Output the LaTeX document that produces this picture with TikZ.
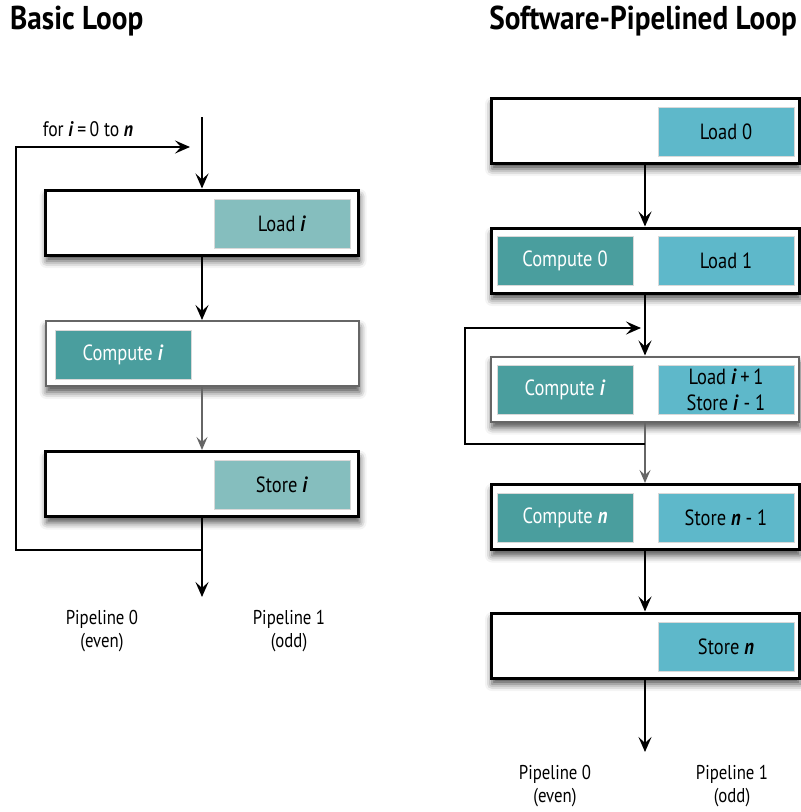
\documentclass[tikz,border=0pt]{standalone}
\usepackage{fontspec}
\setmainfont{PT Sans}
\newfontfamily\condfont[FakeStretch=0.84]{PT Sans}
\newfontfamily\titlefont[FakeStretch=0.885]{PT Sans}
\newfontfamily\pipefont[FakeStretch=0.84]{PT Sans}
\usetikzlibrary{arrows.meta,shadows.blur}
\definecolor{lteal}{HTML}{85BEBE}
\definecolor{dteal}{HTML}{4A9E9E}
\definecolor{lblue}{HTML}{5EB8CA}
\definecolor{grayline}{HTML}{666666}
\newcommand{\bi}[1]{\textbf{\textit{#1}}}
\begin{document}
\begin{tikzpicture}[x=1pt,y=-1pt,
  outerbox/.style={draw=black, line width=3pt, fill=white, minimum width=313pt, minimum height=65pt, inner sep=0pt,
    blur shadow={shadow xshift=1pt, shadow yshift=-6pt, shadow blur radius=7pt, shadow opacity=70}},
  routerbox/.style={outerbox, minimum width=308pt},
  softbox/.style={draw=grayline, line width=2pt},
  inner/.style={minimum width=136pt, minimum height=49pt, inner sep=0pt, draw=white!85!black, line width=0.6pt,
    font=\condfont\fontsize{22}{26}\selectfont, align=center},
  lightbox/.style={inner, fill=lteal, text=black},
  bluebox/.style={inner, fill=lblue, text=black},
  darkbox/.style={inner, fill=dteal, text=white},
  flow/.style={line width=2.5pt, draw=black, -{Stealth[length=15pt,width=13pt,inset=6pt]}},
  gflow/.style={line width=1.5pt, draw=grayline, -{Stealth[length=13pt,width=11pt,inset=5pt]}},
  loopline/.style={line width=2.5pt, draw=black},
  title/.style={font=\titlefont\bfseries\fontsize{33}{36}\selectfont, inner sep=0pt},
  pipe/.style={font=\pipefont\fontsize{20}{23}\selectfont, align=center, inner sep=0pt},
  forlab/.style={font=\condfont\fontsize{21}{24}\selectfont, inner sep=0pt}
]
\useasboundingbox (0,0) rectangle (801,812);

% titles
\node[title, anchor=west] (t1) at (10,21) {Basic Loop};
\node[title, anchor=east] (t2) at (797,21) {Software-Pipelined Loop};

% ---------- left: basic loop ----------
\node[outerbox] (L1) at (202,222.5) {};
\node[lightbox] (L1r) at (282,223.5) {Load \bi{i}};
\node[outerbox, softbox] (L2) at (202,353.5) {};
\node[darkbox] (L2l) at (123,354.5) {Compute \bi{i}};
\node[outerbox] (L3) at (202,484) {};
\node[lightbox] (L3r) at (282,484.5) {Store \bi{i}};

\coordinate (Ls) at (202,117);
\coordinate (Le) at (202,597);
\coordinate (Lm) at (202,550);
\coordinate (Lc1) at (16,550);
\coordinate (Lc2) at (16,147);
\coordinate (La) at (190,147);

\node[forlab] (forl) at (88,129) {for \bi{i}\,=\,0 to \bi{n}};

\draw[flow] (Ls) -- (L1.north);
\draw[flow] (L1.south) -- (L2.north);
\draw[gflow] (L2.south) -- (L3.north);
\draw[flow] (L3.south) -- (Le);
\draw[loopline, -{Stealth[length=15pt,width=13pt,inset=6pt]}] (Lm) -- (Lc1) -- (Lc2) -- (La);

\node[pipe] (lp0) at (102,631) {Pipeline 0\\(even)};
\node[pipe] (lp1) at (289,631) {Pipeline 1\\(odd)};

% ---------- right: software-pipelined loop ----------
\node[routerbox] (R1) at (645,130.5) {};
\node[bluebox] (R1r) at (726,131.5) {Load 0};

\node[routerbox] (R2) at (645,260.5) {};
\node[darkbox] (R2l) at (565,261) {Compute 0};
\node[bluebox] (R2r) at (726,261) {Load 1};

\node[routerbox, softbox] (R3) at (645,389) {};
\node[darkbox] (R3l) at (565,389.5) {Compute \bi{i}};
\node[bluebox] (R3r) at (726,389.5) {Load \bi{i}\,+\,1\\Store \bi{i} - 1};

\node[routerbox] (R4) at (645,517) {};
\node[darkbox] (R4l) at (565,517.5) {Compute \bi{n}};
\node[bluebox] (R4r) at (726,517.5) {Store \bi{n} - 1};

\node[routerbox] (R5) at (645,645.5) {};
\node[bluebox] (R5r) at (726,646.5) {Store \bi{n}};

\coordinate (Re) at (645,752);
\coordinate (Rm) at (645,444);
\coordinate (Rc1) at (465,444);
\coordinate (Rc2) at (465,328);
\coordinate (Ra) at (641,328);

\draw[flow] (R1.south) -- (R2.north);
\draw[flow] (R2.south) -- (R3.north);
\draw[gflow] (R3.south) -- (R4.north);
\draw[flow] (R4.south) -- (R5.north);
\draw[flow] (R5.south) -- (Re);
\draw[loopline, -{Stealth[length=15pt,width=13pt,inset=6pt]}] (Rm) -- (Rc1) -- (Rc2) -- (Ra);

\node[pipe] (rp0) at (555,786) {Pipeline 0\\(even)};
\node[pipe] (rp1) at (732,786) {Pipeline 1\\(odd)};
\end{tikzpicture}
\end{document}
